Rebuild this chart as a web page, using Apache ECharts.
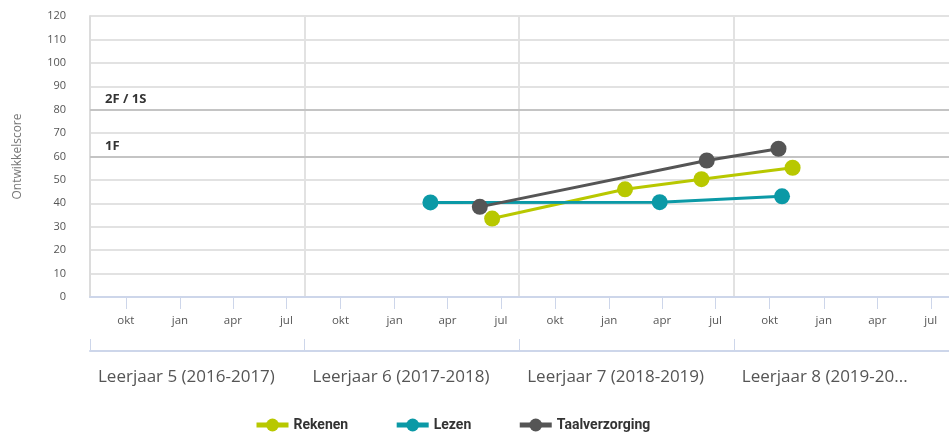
<!DOCTYPE html>
<html>
<head>
<meta charset="utf-8">
<title>Ontwikkelscore</title>
<script src="https://cdn.jsdelivr.net/npm/echarts@6/dist/echarts.min.js"></script>
<style>
  html, body { margin: 0; padding: 0; background: #fff; }
  #chart { width: 949px; height: 435px; }
</style>
</head>
<body>
<div id="chart"></div>
<script>
// schooljaren lopen van 1 aug t/m 31 jul
const yearStarts = ['2016-08-01', '2017-08-01', '2018-08-01', '2019-08-01', '2020-08-01']
const yearLabels = ['Leerjaar 5 (2016-2017)', 'Leerjaar 6 (2017-2018)', 'Leerjaar 7 (2018-2019)', 'Leerjaar 8 (2019-2020)']
const monthTicks = [
  '2016-10-01', '2017-01-01', '2017-04-01', '2017-07-01',
  '2017-10-01', '2018-01-01', '2018-04-01', '2018-07-01',
  '2018-10-01', '2019-01-01', '2019-04-01', '2019-07-01',
  '2019-10-01', '2020-01-01', '2020-04-01', '2020-07-01'
]
const monthNames = { 0: 'jan', 3: 'apr', 6: 'jul', 9: 'okt' }

// referentieniveaus
const levels = [
  { name: '1F', value: 60 },
  { name: '2F / 1S', value: 80 }
]

// metingen
const rekenenDates = ['2018-06-16', '2019-01-28', '2019-06-07', '2019-11-09']
const rekenenScores = [33.5, 46, 50.3, 55.2]
const lezenDates = ['2018-03-03', '2019-03-28', '2019-10-22']
const lezenScores = [40.4, 40.5, 43]
const taalDates = ['2018-05-26', '2019-06-16', '2019-10-16']
const taalScores = [38.5, 58.3, 63.3]

const ts = d => new Date(d + 'T00:00:00').getTime()
const pairs = (dates, vals) => dates.map((d, i) => [ts(d), vals[i]])

const chart = echarts.init(document.getElementById('chart'))
const yearFontSize = 17
const yearFont = yearFontSize + 'px "Open Sans"'

// tekst inkorten tot hij in de beschikbare breedte past
const measure = document.createElement('canvas').getContext('2d')
measure.font = yearFont
function shorten(txt, maxW) {
  if (measure.measureText(txt).width <= maxW) return txt
  let s = txt
  while (s.length > 1 && measure.measureText(s + '...').width > maxW) s = s.slice(0, -1)
  return s + '...'
}

const makeSeries = (name, color, data) => ({
  name: name,
  type: 'line',
  data: data,
  symbol: 'circle',
  symbolSize: 16,
  showAllSymbol: true,
  lineStyle: { color: color, width: 3 },
  itemStyle: { color: color },
  z: 3
})

const series = [
  makeSeries('Rekenen', '#b8c800', pairs(rekenenDates, rekenenScores)),
  makeSeries('Lezen', '#0b99a6', pairs(lezenDates, lezenScores)),
  makeSeries('Taalverzorging', '#555555', pairs(taalDates, taalScores))
]
// lijnen voor 1F en 2F/1S
series[0].markLine = {
  silent: true,
  symbol: 'none',
  z: 1,
  lineStyle: { color: '#c4c4c4', width: 2, type: 'solid' },
  label: {
    position: 'insideStartTop',
    distance: [15, 4],
    color: '#333',
    fontWeight: 'bold',
    fontSize: 13,
    fontFamily: 'Open Sans',
    formatter: p => p.name
  },
  data: levels.map(l => ({ name: l.name, yAxis: l.value }))
}

const option = {
  animation: false,
  grid: { left: 90, right: -4, top: 16, bottom: 138 },
  legend: {
    data: ['Rekenen', 'Lezen', 'Taalverzorging'],
    bottom: -2,
    left: 249,
    itemWidth: 32,
    itemHeight: 16,
    itemGap: 46,
    lineStyle: { width: 5 },
    textStyle: { color: '#333', fontWeight: 'bold', fontSize: 14, fontFamily: 'Roboto' }
  },
  xAxis: [
    {
      type: 'value',
      min: ts(yearStarts[0]),
      max: ts(yearStarts[yearStarts.length - 1]),
      axisLine: { lineStyle: { color: '#cdd6ea', width: 2 } },
      axisTick: { customValues: monthTicks.map(ts), length: 12, lineStyle: { color: '#cdd6ea' } },
      axisLabel: {
        customValues: monthTicks.map(ts),
        margin: 18,
        color: '#555',
        fontSize: 11.5,
        fontFamily: 'Open Sans',
        formatter: v => monthNames[new Date(v).getMonth()]
      },
      splitLine: { show: false }
    },
    {
      type: 'value',
      position: 'bottom',
      offset: 54,
      min: ts(yearStarts[0]),
      max: ts(yearStarts[yearStarts.length - 1]),
      axisLine: { lineStyle: { color: '#cdd6ea', width: 2 } },
      axisTick: { inside: true, customValues: yearStarts.slice(0, 4).map(ts), length: 12, lineStyle: { color: '#cdd6ea' } },
      axisLabel: {
        customValues: yearStarts.slice(0, 4).map(ts),
        align: 'left',
        padding: [0, 0, 0, 8],
        margin: 18,
        color: '#555',
        fontSize: yearFontSize,
        fontFamily: 'Open Sans',
        formatter: v => {
          const i = new Date(v).getFullYear() - 2016
          // laatste label valt buiten de grafiek
          return i === yearLabels.length - 1 ? shorten(yearLabels[i], 175) : yearLabels[i]
        }
      },
      splitLine: { show: true, lineStyle: { color: '#e2e2e2', width: 2 } }
    }
  ],
  yAxis: {
    type: 'value',
    min: 0,
    max: 120,
    interval: 10,
    name: 'Ontwikkelscore',
    nameLocation: 'middle',
    nameGap: 66,
    nameTextStyle: { color: '#777', fontSize: 12, fontFamily: 'Open Sans' },
    axisLine: { show: true, lineStyle: { color: '#dcdcdc', width: 2 } },
    axisTick: { show: false },
    axisLabel: { margin: 24, color: '#555', fontSize: 11, fontFamily: 'Open Sans' },
    splitLine: { lineStyle: { color: '#e2e2e2', width: 2 } }
  },
  series: series
}

chart.setOption(option)
</script>
</body>
</html>
